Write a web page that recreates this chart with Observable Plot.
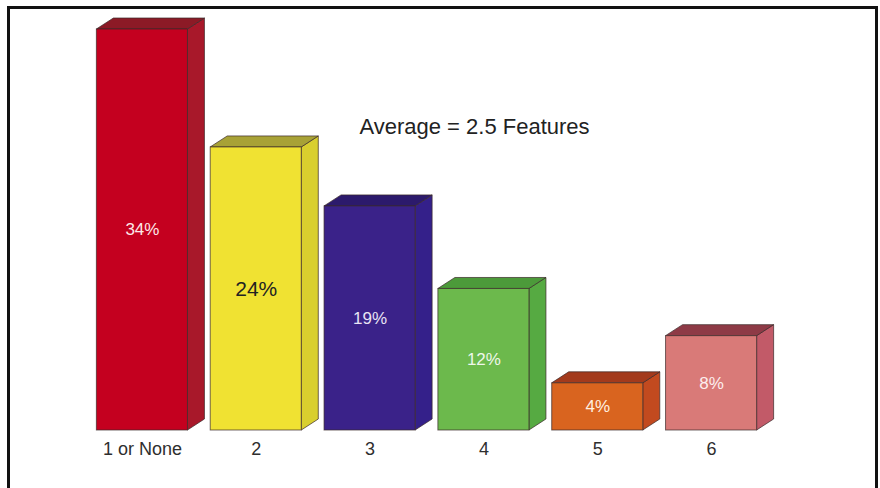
<!DOCTYPE html>
<html>
<head>
<meta charset="utf-8">
<script src="https://cdn.jsdelivr.net/npm/d3@7"></script>
<script src="https://cdn.jsdelivr.net/npm/@observablehq/plot@0.6"></script>
<style>
  html, body { margin: 0; padding: 0; background: #fff; }
  #chart { position: relative; width: 880px; height: 488px; overflow: hidden; }
  #chart svg { display: block; }
  .frame { position: absolute; left: 7px; top: 6px; width: 871px; height: 500px;
           border: 3px solid #111; box-sizing: border-box; pointer-events: none; }
</style>
</head>
<body>
<div id="chart"><div class="frame"></div></div>
<script>
// Number of features used, share of respondents (%)
const categories = ["1 or None", "2", "3", "4", "5", "6"];
const shares = [34, 24, 19, 12, 4, 8];
const valueLabels = ["34%", "24%", "19%", "12%", "4%", "8%"];
const note = "Average = 2.5 Features";

// Face colours per bar: front, top, side
const frontColors = ["#c4001f", "#f0e232", "#3a2289", "#6cb94c", "#d9641f", "#d97a78"];
const topColors   = ["#8c1a26", "#a8a236", "#2c1a6c", "#4c9a3a", "#a33a1c", "#8e3a46"];
const sideColors  = ["#a8182a", "#d9cf2e", "#34208a", "#56aa42", "#c24a1f", "#c25a68"];
const labelColors = ["#fde8e8", "#222222", "#e8e4f4", "#eef7ea", "#fff0e0", "#fdeeee"];

const data = categories.map((c, i) => ({
  cat: c, value: shares[i], label: valueLabels[i],
  front: frontColors[i], top: topColors[i], side: sideColors[i], ink: labelColors[i]
}));

// Extrusion of the boxes (pixels)
const DX = 17, DY = -11;

// Top and side faces of each box, placed with the plot's x and y scales
function extrusion(index, scales) {
  const {x, y} = scales;
  const bw = x.bandwidth ? x.bandwidth() : 90;
  const g = d3.create("svg:g");
  for (const d of data) {
    const x1 = x(d.cat), x2 = x1 + bw;
    const y0 = y(0), y1 = y(d.value);
    // side face
    g.append("path")
      .attr("d", `M${x2},${y0}L${x2 + DX},${y0 + DY}L${x2 + DX},${y1 + DY}L${x2},${y1}Z`)
      .attr("fill", d.side).attr("stroke", "#3a2a2a").attr("stroke-opacity", 0.7)
      .attr("stroke-width", 1).attr("stroke-linejoin", "round");
    // top face
    g.append("path")
      .attr("d", `M${x1},${y1}L${x1 + DX},${y1 + DY}L${x2 + DX},${y1 + DY}L${x2},${y1}Z`)
      .attr("fill", d.top).attr("stroke", "#3a2a2a").attr("stroke-opacity", 0.7)
      .attr("stroke-width", 1).attr("stroke-linejoin", "round");
  }
  return g.node();
}

const plot = Plot.plot({
  width: 880,
  height: 488,
  marginTop: 29,
  marginBottom: 58,
  marginLeft: 85,
  marginRight: 112,
  style: {background: "transparent", fontFamily: "Liberation Sans, Arial, sans-serif"},
  x: {domain: categories, paddingInner: 0.2, paddingOuter: 0.1, round: false, label: null},
  y: {domain: [0, d3.max(shares)], axis: null},
  marks: [
    extrusion,
    Plot.barY(data, {
      x: "cat", y: "value", fill: d => d.front,
      stroke: "#3a2a2a", strokeOpacity: 0.7, strokeWidth: 1
    }),
    Plot.text(data.filter(d => d.cat !== "2"), {
      x: "cat", y: d => d.value / 2, text: "label", fill: d => d.ink,
      fontSize: 17
    }),
    Plot.text(data.filter(d => d.cat === "2"), {
      x: "cat", y: d => d.value / 2, text: "label", fill: d => d.ink,
      fontSize: 21
    }),
    Plot.axisX({tickSize: 0, tickPadding: 12, fontSize: 18, color: "#2e2e2e"}),
    Plot.text([note], {
      frameAnchor: "top-left", dx: 389, dy: 97, text: d => d,
      fontSize: 22, fill: "#222", textAnchor: "middle", lineAnchor: "middle"
    })
  ]
});

document.getElementById("chart").prepend(plot);
</script>
</body>
</html>
